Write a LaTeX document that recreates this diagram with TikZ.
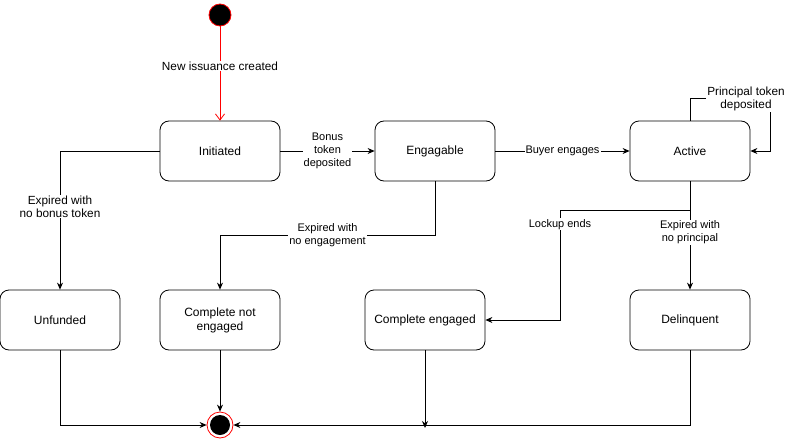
\documentclass[tikz,border=0pt]{standalone}
\usepackage{fontspec}
\setmainfont{Liberation Sans}
\usetikzlibrary{arrows.meta}
\tikzset{
  state/.style={draw, line width=0.8pt, rounded corners=9pt, minimum width=120pt,
    minimum height=60pt, align=center, font=\fontsize{12}{14}\selectfont},
  trans/.style={line width=0.8pt, -{Stealth[length=7pt,width=6pt]}},
  lbl/.style={fill=white, align=center, inner sep=1pt, font=\fontsize{11}{13}\selectfont},
  lblbig/.style={lbl, font=\fontsize{11.8}{13}\selectfont},
}
\begin{document}
\begin{tikzpicture}[x=1pt,y=-1pt]
        \useasboundingbox (0,0) rectangle (786,441);
        % states
        \node[circle, fill=black, draw=red, line width=0.8pt, minimum size=22pt, inner sep=0pt] (start) at (220,15) {};
        \node[state] (init) at (220,151) {Initiated};
        \node[state] (eng) at (435,151) {Engagable};
        \node[state] (act) at (690,151) {Active};
        \node[state] (unf) at (60,320) {Unfunded};
        \node[state] (cne) at (220,320) {Complete not\\engaged};
        \node[state] (ce) at (425,320) {Complete engaged};
        \node[state] (del) at (690,320) {Delinquent};
        \node[circle, draw=red, line width=0.8pt, minimum size=26pt, inner sep=0pt] (final) at (220,425) {};
        \fill[black] (final.center) circle (10pt);

        % transitions
        \draw[red, line width=0.8pt, -{Straight Barb[length=6pt,width=9pt]}] (start) -- node[lblbig, text=black, pos=.42] {New issuance created} (init);
        \draw[trans] (init) -- node[lbl] {Bonus\\token\\deposited} (eng);
        \draw[trans] (eng) -- node[lbl] {Buyer engages} (act);
        \coordinate (loop) at (770,98);
        \draw[trans] (act.north) |- (loop) |- (act.east);
        \node[lblbig] (prin) at (746,99) {Principal token\\deposited};
        \draw[trans] (init.west) -| node[lblbig, pos=.7] {Expired with\\no bonus token} (unf.north);
        \draw[trans] (eng.south) -- ++(0,54) -| node[lbl, pos=.25] {Expired with\\no engagement} (cne.north);
        \coordinate (lock) at (560,210);
        \draw[trans] (act.south) |- (lock) |- node[lbl, pos=.065] {Lockup ends} (ce.east);
        \draw[trans] (act.south) -- node[lbl, pos=.47] {Expired with\\no principal} (del.north);

        % to final state
        \coordinate (merge) at (425,428);
        \draw[trans] (unf.south) |- (final.west);
        \draw[trans] (cne.south) -- (final.north);
        \draw[trans] (ce.south) -- (merge);
        \draw[trans] (del.south) |- (final.east);

      \end{tikzpicture}
\end{document}
